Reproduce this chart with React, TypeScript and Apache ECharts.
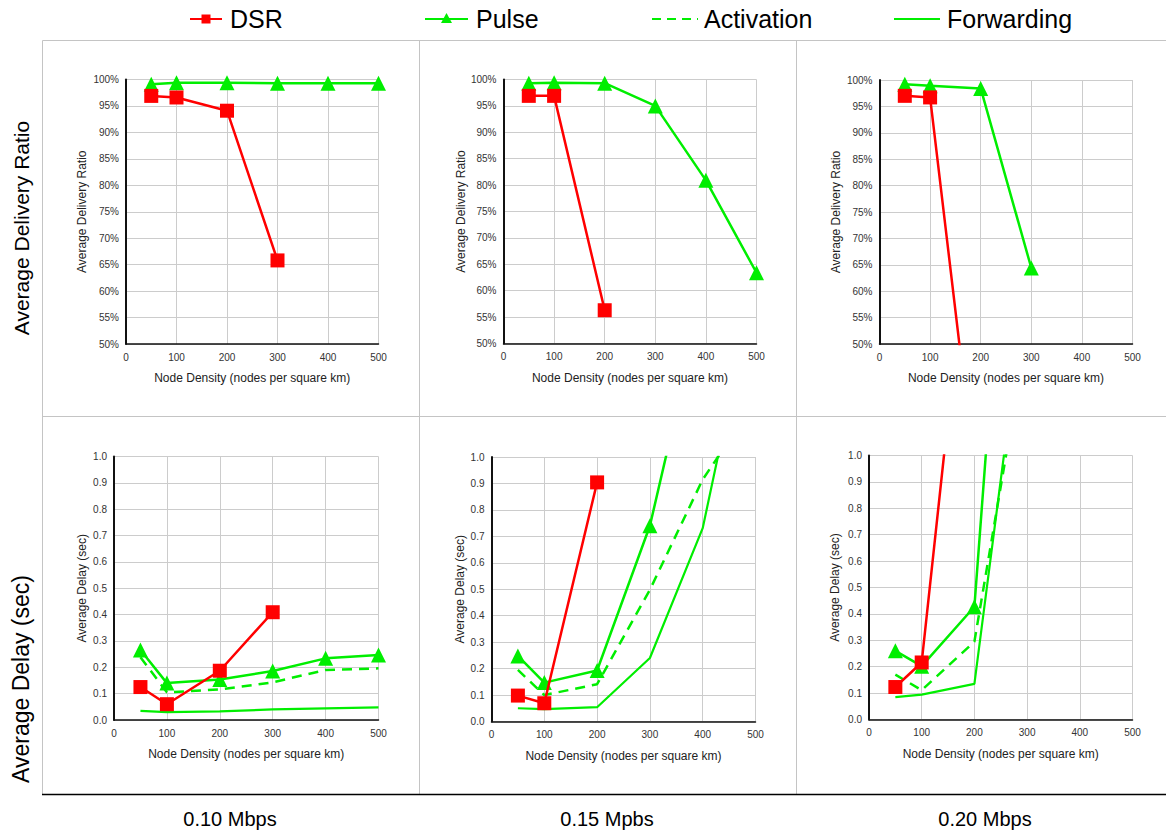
import React, { useEffect, useRef } from "react";
import * as echarts from "echarts";

const densities = [50, 100, 200, 300, 400, 500];
const xTicks = [0, 100, 200, 300, 400, 500];
const bandwidths = ["0.10 Mbps", "0.15 Mpbs", "0.20 Mbps"];
const seriesNames = ["DSR", "Pulse", "Activation", "Forwarding"];

// Average delivery ratio (%)
const ratioDsr010 = [96.9, 96.6, 94.1, 65.8];
const ratioPulse010 = [99.1, 99.4, 99.4, 99.3, 99.3, 99.3];
const ratioDsr015 = [96.9, 96.9, 56.3];
const ratioPulse015 = [99.3, 99.4, 99.3, 95.0, 80.9, 63.4];
const ratioDsr020 = [97.0, 96.7, 16.0];
const ratioPulse020 = [99.2, 98.9, 98.4, 64.4];

// Average delay (sec)
const delayDsr010 = [0.125, 0.06, 0.187, 0.409];
const delayPulse010 = [0.266, 0.14, 0.154, 0.186, 0.234, 0.247];
const delayActivation010 = [0.238, 0.105, 0.116, 0.143, 0.19, 0.196];
const delayForwarding010 = [0.035, 0.03, 0.033, 0.04, 0.044, 0.048];

const delayDsr015 = [0.098, 0.069, 0.904];
const delayPulse015 = [0.248, 0.147, 0.193, 0.74, 1.6];
const delayActivation015 = [0.195, 0.1, 0.141, 0.498, 0.915, 1.21];
const delayForwarding015 = [0.05, 0.047, 0.054, 0.24, 0.731, 1.67];

const delayDsr020 = [0.123, 0.216, 2.07];
const delayPulse020 = [0.26, 0.202, 0.427, 3.09];
const delayActivation020 = [0.17, 0.111, 0.295, 1.47];
const delayForwarding020 = [0.085, 0.094, 0.135, 1.68];

const RED = "#ff0000";
const GREEN = "#00ee00";
const FONT = "'Liberation Sans', Arial, Helvetica, sans-serif";

const pairs = (vals: number[]) => vals.map((v, i) => [densities[i], v]);

// grid boxes: [left, top, width, height, yNameGap]
const grids = [
  [126, 79.5, 252.5, 264.5, 38],
  [503.5, 79.5, 253, 264, 37],
  [879.5, 80, 253, 264, 38],
  [114, 456.5, 264.5, 263.5, 26],
  [491.5, 457, 264, 264.5, 26],
  [869, 455.5, 263.5, 264, 28],
];

export default function App() {
  const ref = useRef<HTMLDivElement>(null);
  useEffect(() => {
    if (!ref.current) return;
    const chart = echarts.init(ref.current, null, { renderer: "svg" });

    const xAxes: any[] = [];
    const yAxes: any[] = [];
    const gridOpts: any[] = [];
    grids.forEach((g, i) => {
      const top = i < 3;
      gridOpts.push({ left: g[0], top: g[1], width: g[2], height: g[3], containLabel: false });
      xAxes.push({
        type: "value",
        gridIndex: i,
        min: xTicks[0],
        max: xTicks[xTicks.length - 1],
        interval: 100,
        name: "Node Density (nodes per square km)",
        nameLocation: "middle",
        nameGap: 28,
        nameTextStyle: { fontSize: 12, color: "#222", fontFamily: FONT },
        axisLine: { show: true, onZero: false, lineStyle: { color: "#111", width: 1.5 } },
        axisTick: { show: false },
        axisLabel: { fontSize: 10, color: "#333", fontFamily: FONT, margin: 8 },
        splitLine: { show: true, lineStyle: { color: "#cccccc", width: 1 } },
      });
      yAxes.push({
        type: "value",
        gridIndex: i,
        min: top ? 50 : 0,
        max: top ? 100 : 1,
        interval: top ? 5 : 0.1,
        name: top ? "Average Delivery Ratio" : "Average Delay (sec)",
        nameLocation: "middle",
        nameGap: g[4],
        nameTextStyle: { fontSize: 12, color: "#222", fontFamily: FONT },
        axisLine: { show: true, onZero: false, lineStyle: { color: "#111", width: 2 } },
        axisTick: { show: false },
        axisLabel: {
          fontSize: 10,
          color: "#333",
          fontFamily: FONT,
          margin: 7,
          formatter: top ? (v: number) => `${Math.round(v)}%` : (v: number) => v.toFixed(1),
        },
        splitLine: { show: true, lineStyle: { color: "#cccccc", width: 1 } },
      });
    });

    const dsr = (idx: number, vals: number[]) => ({
      name: seriesNames[0],
      type: "line",
      xAxisIndex: idx,
      yAxisIndex: idx,
      data: pairs(vals),
      clip: true,
      symbol: "rect",
      symbolSize: 14,
      itemStyle: { color: RED },
      lineStyle: { color: RED, width: 2.5 },
      z: 4,
    });
    const pulse = (idx: number, vals: number[]) => ({
      name: seriesNames[1],
      type: "line",
      xAxisIndex: idx,
      yAxisIndex: idx,
      data: pairs(vals),
      clip: true,
      symbol: "triangle",
      symbolSize: 15,
      itemStyle: { color: GREEN },
      lineStyle: { color: GREEN, width: 2.5 },
      z: 3,
    });
    const activation = (idx: number, vals: number[]) => ({
      name: seriesNames[2],
      type: "line",
      xAxisIndex: idx,
      yAxisIndex: idx,
      data: pairs(vals),
      clip: true,
      showSymbol: false,
      symbol: "none",
      lineStyle: { color: GREEN, width: 2.5, type: [10, 7] },
      z: 2,
    });
    const forwarding = (idx: number, vals: number[]) => ({
      name: seriesNames[3],
      type: "line",
      xAxisIndex: idx,
      yAxisIndex: idx,
      data: pairs(vals),
      clip: true,
      showSymbol: false,
      symbol: "none",
      lineStyle: { color: GREEN, width: 2.2 },
      z: 2,
    });

    const series = [
      pulse(0, ratioPulse010),
      dsr(0, ratioDsr010),
      pulse(1, ratioPulse015),
      dsr(1, ratioDsr015),
      pulse(2, ratioPulse020),
      dsr(2, ratioDsr020),
      forwarding(3, delayForwarding010),
      activation(3, delayActivation010),
      pulse(3, delayPulse010),
      dsr(3, delayDsr010),
      forwarding(4, delayForwarding015),
      activation(4, delayActivation015),
      pulse(4, delayPulse015),
      dsr(4, delayDsr015),
      forwarding(5, delayForwarding020),
      activation(5, delayActivation020),
      pulse(5, delayPulse020),
      dsr(5, delayDsr020),
    ];

    const border = "#c4c4c4";
    const line = (x1: number, y1: number, x2: number, y2: number, color: string, w: number, dash?: number[]) => ({
      type: "line",
      shape: { x1, y1, x2, y2 },
      style: { stroke: color, lineWidth: w, lineDash: dash },
      silent: true,
    });
    const text = (x: number, y: number, t: string, size: number, extra: any = {}) => ({
      type: "text",
      x,
      y,
      ...extra,
      style: {
        text: t,
        font: `${size}px ${FONT}`,
        fill: "#000",
        align: extra.align || "left",
        verticalAlign: "middle",
      },
      silent: true,
    });

    const colCenters = [230, 607, 985];
    const legendY = 19;
    const graphic: any[] = [
      // cell borders
      line(42.5, 40.5, 1166, 40.5, border, 1),
      line(42.5, 416.5, 1166, 416.5, border, 1),
      line(42.5, 40.5, 42.5, 794, border, 1),
      line(419.5, 40.5, 419.5, 794, border, 1),
      line(796.5, 40.5, 796.5, 794, border, 1),
      line(42, 794.5, 1166, 794.5, "#000", 1.5),
      // row labels
      text(21, 228, "Average Delivery Ratio", 21, { rotation: Math.PI / 2, align: "center" }),
      text(21, 679, "Average Delay (sec)", 23, { rotation: Math.PI / 2, align: "center" }),
      // column labels
      ...bandwidths.map((b, i) => text(colCenters[i], 819, b, 20, { align: "center" })),
      // legend: DSR
      line(190, legendY, 222, legendY, RED, 2),
      { type: "rect", shape: { x: 201.5, y: legendY - 4.5, width: 9, height: 9 }, style: { fill: RED }, silent: true },
      text(230, legendY, seriesNames[0], 25),
      // legend: Pulse
      line(425, legendY, 468, legendY, GREEN, 2),
      {
        type: "polygon",
        shape: { points: [[446.5, legendY - 6], [452, legendY + 4], [441, legendY + 4]] },
        style: { fill: GREEN },
        silent: true,
      },
      text(476, legendY, seriesNames[1], 25),
      // legend: Activation
      line(652, legendY, 698, legendY, GREEN, 2, [9, 6]),
      text(704, legendY, seriesNames[2], 25),
      // legend: Forwarding
      line(894, legendY, 940, legendY, GREEN, 2),
      text(947, legendY, seriesNames[3], 25),
    ];

    chart.setOption({
      animation: false,
      backgroundColor: "#ffffff",
      textStyle: { fontFamily: FONT },
      grid: gridOpts,
      xAxis: xAxes,
      yAxis: yAxes,
      series,
      graphic,
    });
    return () => chart.dispose();
  }, []);

  return (
    <div
      ref={ref}
      style={{ position: "absolute", left: 0, top: 0, width: 1166, height: 832, background: "#fff" }}
    />
  );
}
